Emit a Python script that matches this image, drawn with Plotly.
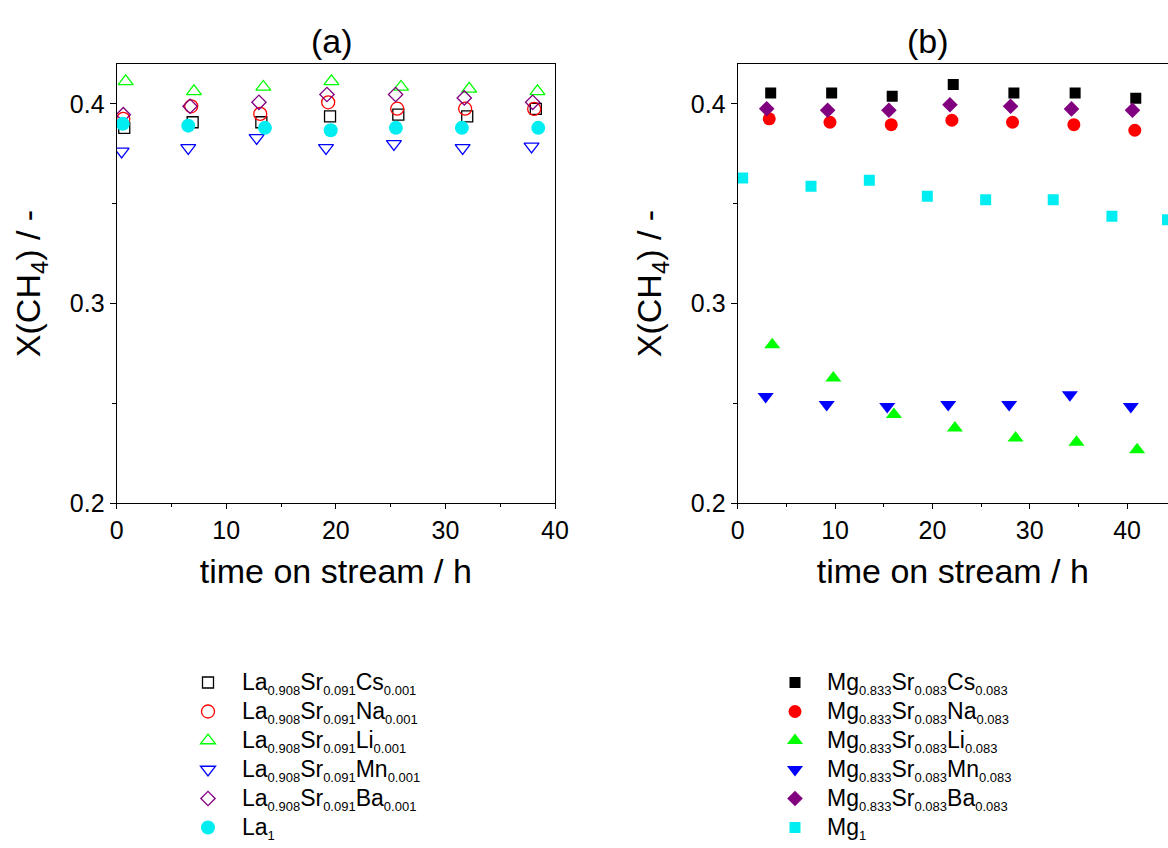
import plotly.graph_objects as go

FONT = "Liberation Sans, Arial, sans-serif"

# ---------------- Panel (a) data ----------------
a_labels = [
    ["La", "0.908", "Sr", "0.091", "Cs", "0.001"],
    ["La", "0.908", "Sr", "0.091", "Na", "0.001"],
    ["La", "0.908", "Sr", "0.091", "Li", "0.001"],
    ["La", "0.908", "Sr", "0.091", "Mn", "0.001"],
    ["La", "0.908", "Sr", "0.091", "Ba", "0.001"],
    ["La", "1"],
]
a_cs_t = [0.69, 6.93, 13.2, 19.47, 25.7, 31.99, 38.25]
a_cs_x = [0.388, 0.3908, 0.3908, 0.3938, 0.3946, 0.3938, 0.3975]
a_na_t = [0.6, 6.8, 13.1, 19.3, 25.6, 31.8, 38.1]
a_na_x = [0.3925, 0.3988, 0.395, 0.4008, 0.3976, 0.3976, 0.3975]
a_li_t = [0.82, 7.05, 13.38, 19.6, 25.95, 32.17, 38.4]
a_li_x = [0.4113, 0.4063, 0.4085, 0.4113, 0.4085, 0.4075, 0.4063]
a_mn_t = [0.45, 6.53, 12.77, 19.1, 25.3, 31.57, 37.86]
a_mn_x = [0.3762, 0.378, 0.383, 0.378, 0.380, 0.378, 0.3787]
a_ba_t = [0.6, 6.69, 12.98, 19.19, 25.45, 31.72, 37.96]
a_ba_x = [0.3946, 0.3988, 0.4008, 0.4047, 0.4047, 0.403, 0.4008]
a_la_t = [0.55, 6.53, 13.53, 19.53, 25.48, 31.5, 38.47]
a_la_x = [0.390, 0.3891, 0.388, 0.3868, 0.388, 0.388, 0.388]

# ---------------- Panel (b) data ----------------
b_labels = [
    ["Mg", "0.833", "Sr", "0.083", "Cs", "0.083"],
    ["Mg", "0.833", "Sr", "0.083", "Na", "0.083"],
    ["Mg", "0.833", "Sr", "0.083", "Li", "0.083"],
    ["Mg", "0.833", "Sr", "0.083", "Mn", "0.083"],
    ["Mg", "0.833", "Sr", "0.083", "Ba", "0.083"],
    ["Mg", "1"],
]
b_cs_t = [3.39, 9.65, 15.87, 22.14, 28.37, 34.66, 40.89]
b_cs_x = [0.4055, 0.4055, 0.4038, 0.4097, 0.4055, 0.4055, 0.4028]
b_na_t = [3.24, 9.48, 15.77, 22.0, 28.23, 34.53, 40.79]
b_na_x = [0.3925, 0.3908, 0.3896, 0.3918, 0.3908, 0.3896, 0.3868]
b_li_t = [3.55, 9.82, 16.05, 22.31, 28.54, 34.8, 41.03]
b_li_x = [0.2793, 0.2627, 0.2443, 0.2376, 0.2326, 0.2304, 0.2267]
b_mn_t = [2.87, 9.14, 15.36, 21.62, 27.88, 34.12, 40.38]
b_mn_x = [0.2534, 0.2493, 0.2484, 0.2493, 0.2493, 0.2543, 0.2484]
b_ba_t = [2.98, 9.24, 15.53, 21.8, 28.03, 34.29, 40.55]
b_ba_x = [0.3976, 0.3968, 0.3968, 0.3996, 0.3988, 0.3975, 0.3968]
b_mg_t = [0.51, 7.53, 13.52, 19.48, 25.47, 32.41, 38.44, 44.15]
b_mg_x = [0.3629, 0.3587, 0.3617, 0.3537, 0.352, 0.352, 0.3437, 0.342]

x_ticks = [0, 10, 20, 30, 40]
y_ticks = [0.2, 0.3, 0.4]
y_ticklabels = ["0.2", "0.3", "0.4"]


def formula(parts):
    s = ""
    for i, p in enumerate(parts):
        if i % 2 == 0:
            s += p
        else:
            s += '<sub><span style="font-size:13px">' + p + "</span></sub>"
    return '<span style="font-size:23px">' + s + "</span>"


fig = go.Figure()


def add(t, x, name, symbol, color, size, filled, xa, ya, legend):
    if filled:
        marker = dict(symbol=symbol, size=size, color=color, line=dict(width=0))
    else:
        marker = dict(symbol=symbol + "-open", size=size, color=color,
                      line=dict(width=1.3, color=color))
    fig.add_trace(go.Scatter(x=t, y=x, mode="markers", name=name, marker=marker,
                             xaxis=xa, yaxis=ya, legend=legend))


BLACK, RED, GREEN, BLUE, PURPLE, CYAN = "#000000", "#FF0000", "#00FF00", "#0000FF", "#800080", "#00EEF2"

add(a_cs_t, a_cs_x, formula(a_labels[0]), "square", BLACK, 11, False, "x", "y", "legend")
add(a_na_t, a_na_x, formula(a_labels[1]), "circle", RED, 13, False, "x", "y", "legend")
add(a_li_t, a_li_x, formula(a_labels[2]), "triangle-up", GREEN, 13, False, "x", "y", "legend")
add(a_mn_t, a_mn_x, formula(a_labels[3]), "triangle-down", BLUE, 13, False, "x", "y", "legend")
add(a_ba_t, a_ba_x, formula(a_labels[4]), "diamond", PURPLE, 11, False, "x", "y", "legend")
add(a_la_t, a_la_x, formula(a_labels[5]), "circle", CYAN, 14, True, "x", "y", "legend")

add(b_cs_t, b_cs_x, formula(b_labels[0]), "square", BLACK, 11, True, "x2", "y2", "legend2")
add(b_na_t, b_na_x, formula(b_labels[1]), "circle", RED, 13, True, "x2", "y2", "legend2")
add(b_li_t, b_li_x, formula(b_labels[2]), "triangle-up", GREEN, 14, True, "x2", "y2", "legend2")
add(b_mn_t, b_mn_x, formula(b_labels[3]), "triangle-down", BLUE, 14, True, "x2", "y2", "legend2")
add(b_ba_t, b_ba_x, formula(b_labels[4]), "diamond", PURPLE, 12, True, "x2", "y2", "legend2")
add(b_mg_t, b_mg_x, formula(b_labels[5]), "square", CYAN, 11, True, "x2", "y2", "legend2")

W, H = 1168, 848
ydom = [1 - 503 / H, 1 - 64 / H]


def xaxis(domain, rng, anchor):
    return dict(domain=domain, range=rng, anchor=anchor, tickvals=x_ticks, automargin=False,
                ticks="outside", ticklen=5, tickwidth=1.2, tickcolor="#000",
                minor=dict(dtick=5, ticks="outside", ticklen=3, tickwidth=1.2, tickcolor="#000"),
                showline=True, linecolor="#000", linewidth=1.3, mirror=True,
                showgrid=False, zeroline=False,
                tickfont=dict(family=FONT, size=25, color="#000"),
                title=dict(text="time on stream / h",
                           font=dict(family=FONT, size=34, color="#000"), standoff=16))


def yaxis(anchor, mirror):
    return dict(domain=ydom, range=[0.2, 0.42], anchor=anchor, tickvals=y_ticks,
                ticktext=y_ticklabels, automargin=False,
                ticks="outside", ticklen=6, tickwidth=1.2, tickcolor="#000",
                minor=dict(dtick=0.05, tick0=0.2, ticks="outside", ticklen=4, tickwidth=1.2,
                           tickcolor="#000"),
                showline=True, linecolor="#000", linewidth=1.3, mirror=mirror,
                showgrid=False, zeroline=False,
                tickfont=dict(family=FONT, size=25, color="#000"),
                title=dict(text="X(CH<sub>4</sub>) / -",
                           font=dict(family=FONT, size=34, color="#000"), standoff=18))


leg_common = dict(xanchor="left", yanchor="top", font=dict(family=FONT, size=20, color="#000"),
                  bgcolor="rgba(0,0,0,0)", tracegroupgap=0, borderwidth=0)

fig.update_layout(
    width=W, height=H,
    margin=dict(l=0, r=0, t=0, b=0, autoexpand=False),
    paper_bgcolor="white", plot_bgcolor="white",
    font=dict(family=FONT, color="#000"),
    xaxis=xaxis([116.7 / W, 555 / W], [0, 40], "y"),
    yaxis=yaxis("x", True),
    xaxis2=xaxis([737.7 / W, 1.0], [0, 44.2], "y2"),
    yaxis2=yaxis("x2", False),
    legend=dict(x=174 / W, y=1 - 663 / H, itemwidth=58, **leg_common),
    legend2=dict(x=763 / W, y=1 - 663 / H, itemwidth=54, **leg_common),
    annotations=[
        dict(text="(a)", x=332 / W, y=1 - 41 / H, xref="paper", yref="paper",
             xanchor="center", yanchor="middle",
             showarrow=False, font=dict(family=FONT, size=34, color="#000")),
        dict(text="(b)", x=928 / W, y=1 - 41 / H, xref="paper", yref="paper",
             xanchor="center", yanchor="middle",
             showarrow=False, font=dict(family=FONT, size=34, color="#000")),
    ],
)

fig.write_html("out.html")
